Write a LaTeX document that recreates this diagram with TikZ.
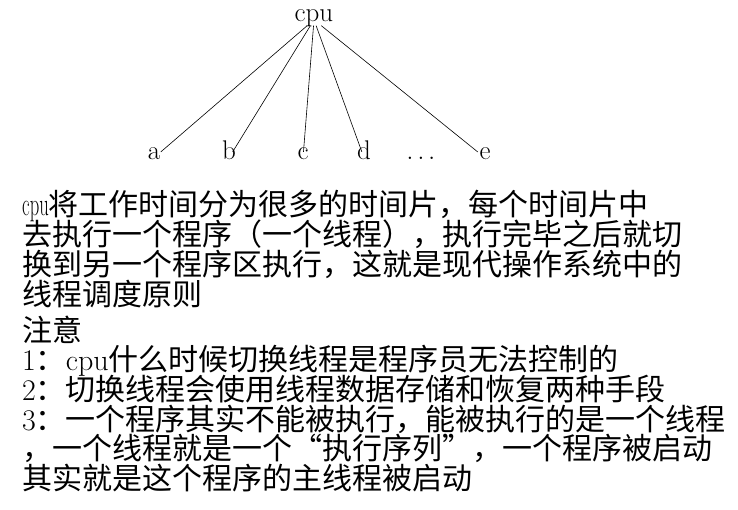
\documentclass[tikz,border=0pt]{standalone}
\usepackage{fontspec}
\usepackage{tikz}
\usetikzlibrary{positioning}
\newfontfamily\cjk{Noto Sans CJK SC}
\newcommand{\lat}[1]{{\rmfamily #1}}
\newcommand{\narrowlat}[1]{\scalebox{0.62}[1.08]{\rmfamily #1}}

\begin{document}
\begin{tikzpicture}[
    x=1pt, y=-1pt,
    leaf/.style={anchor=base, inner sep=1.5pt, text height=0.64em, text depth=0.2em, font=\fontsize{27}{28}\selectfont},
    branch/.style={draw=black, line width=0.6pt},
    para/.style={anchor=base west, inner sep=0pt, text width=720pt, align=left, font=\cjk\fontsize{30}{29.7}\selectfont, execute at begin node={\lineskiplimit=-30pt\relax}}
]
    \useasboundingbox (0,0) rectangle (738,510);

    \node[leaf] (cpu) at (314,22) {cpu};
    \node[leaf] (a) at (154,160) {a};
    \node[leaf] (b) at (229,160) {b};
    \node[leaf] (c) at (303,160) {c};
    \node[leaf] (d) at (364,160) {d};
    \node[leaf] (dots) at (421,160) {$\ldots$};
    \node[leaf] (e) at (485,160) {e};

    \draw[branch] (cpu) -- (a);
    \draw[branch] (cpu) -- (b);
    \draw[branch] (cpu) -- (c);
    \draw[branch] (cpu) -- (d);
    \draw[branch] (cpu) -- (e);

    \node[para] (rule) at (22,216) {\narrowlat{cpu}将工作时间分为很多的时间片，每个时间片中\\
去执行一个程序（一个线程），执行完毕之后就切\\
换到另一个程序区执行，这就是现代操作系统中的\\
线程调度原则};
    \node[para] (note) at (22,341) {注意\\
\lat{1}：\lat{cpu}什么时候切换线程是程序员无法控制的\\
\lat{2}：切换线程会使用线程数据存储和恢复两种手段\\
\lat{3}：一个程序其实不能被执行，能被执行的是一个线程\\
，一个线程就是一个“执行序列”，一个程序被启动\\
其实就是这个程序的主线程被启动};
\end{tikzpicture}
\end{document}
